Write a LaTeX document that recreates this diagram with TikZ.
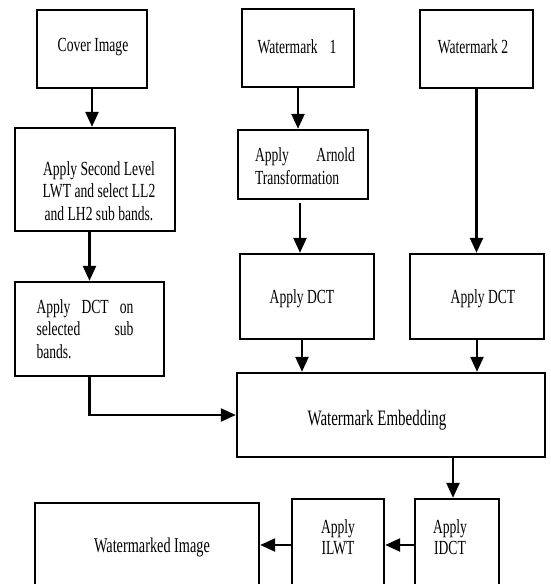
\documentclass[tikz,border=0pt]{standalone}
\usepackage{fontspec}
\setmainfont[FakeStretch=0.68]{Liberation Serif}
\usetikzlibrary{arrows.meta}
\begin{document}
\begin{tikzpicture}[x=1pt,y=-1pt,
  box/.style={draw, line width=2.4pt, inner sep=0pt},
  txt/.style={inner sep=0pt, font=\fontsize{20}{22.5}\selectfont, align=center},
  jtxt/.style={txt, align=left, text width=#1},
  flow/.style={line width=2.4pt, -{Triangle[length=15pt,width=13pt]}}]
% page frame
\clip (0,0) rectangle (551,584);
\fill[white] (0,0) rectangle (551,584);

% boxes
\node[box, minimum width=110pt, minimum height=78pt]  (cover) at (92,49) {};
\node[box, minimum width=160pt, minimum height=103pt] (lwt)   at (95,179.5) {};
\node[box, minimum width=149pt, minimum height=94pt]  (dctA)  at (89.5,329) {};
\node[box, minimum width=112pt, minimum height=78pt]  (wm1)   at (298,48) {};
\node[box, minimum width=130pt, minimum height=69pt]  (arn)   at (303,164.5) {};
\node[box, minimum width=113pt, minimum height=78pt]  (wm2)   at (476.5,49) {};
\node[box, minimum width=134pt, minimum height=85pt]  (dctB)  at (307,296.5) {};
\node[box, minimum width=134pt, minimum height=85pt]  (dctC)  at (477,296.5) {};
\node[box, minimum width=308pt, minimum height=84pt]  (emb)   at (391,415) {};
\node[box, minimum width=84pt,  minimum height=121pt] (idct)  at (457,559.5) {};
\node[box, minimum width=92pt,  minimum height=121pt] (ilwt)  at (338,559.5) {};
\node[box, minimum width=224pt, minimum height=117pt] (wimg)  at (147,561.5) {};

% labels
\node[txt] (coverT) at (93,47) {Cover Image};
\node[txt] (lwtT) at (99,191) {Apply Second Level\\LWT and select LL2\\and LH2 sub bands.};
\node[jtxt=97pt] (dctAT) at (85,329) {Apply\hfill DCT\hfill on\\selected\hfill sub\\bands.};
\node[txt] (wm1T) at (297,47) {Watermark\hspace{12pt}1};
\node[jtxt=100pt] (arnT) at (305,166) {Apply\hfill Arnold\\Transformation};
\node[txt] (wm2T) at (473,47) {Watermark 2};
\node[txt] (dctBT) at (302,299) {Apply DCT};
\node[txt] (dctCT) at (483,299) {Apply DCT};
\node[txt, font=\fontsize{22}{24}\selectfont] (embT) at (377,420) {Watermark Embedding};
\node[txt, font=\fontsize{20}{21}\selectfont] (idctT) at (450,537.5) {Apply\\IDCT};
\node[txt, font=\fontsize{20}{21}\selectfont] (ilwtT) at (338,537.5) {Apply\\ILWT};
\node[txt, font=\fontsize{21}{22}\selectfont] (wimgT) at (152,547) {Watermarked Image};

% connectors
\coordinate (arnX) at ([xshift=-3pt]arn.south);
\coordinate (dctBX) at ([xshift=-5pt]dctB.south);
\coordinate (idctX) at ([xshift=-4pt]idct.north);
\coordinate (row) at (0,545);

\draw[flow] (cover.south) -- (cover.south |- lwt.north);
\draw[flow] (lwt.south -| dctA.north) -- (dctA.north);
\draw[flow] (dctA.south) |- (emb.west);
\draw[flow] (wm1.south) -- (wm1.south |- arn.north);
\draw[flow, shorten <=3pt] (arnX) -- (arnX |- dctB.north);
\draw[flow] (wm2.south) -- (wm2.south |- dctC.north);
\draw[flow] (dctBX) -- (dctBX |- emb.north);
\draw[flow] (dctC.south) -- (dctC.south |- emb.north);
\draw[flow] (idctX |- emb.south) -- (idctX);
\draw[flow] (idct.west |- row) -- (ilwt.east |- row);
\draw[flow] (ilwt.west |- row) -- (wimg.east |- row);
\end{tikzpicture}
\end{document}
